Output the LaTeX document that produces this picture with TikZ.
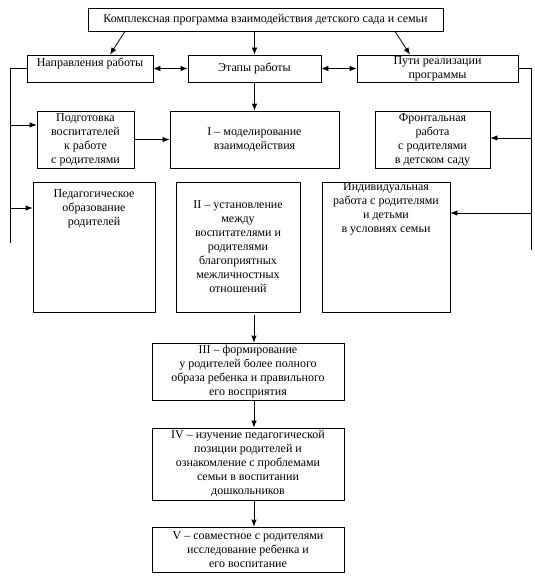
\documentclass[tikz,border=0pt]{standalone}
\usepackage{fontspec}
\setmainfont{Liberation Serif}
\usetikzlibrary{arrows.meta,calc}
\begin{document}
\begin{tikzpicture}[x=1pt,y=-1pt,
  box/.style={draw,line width=0.8pt,inner sep=0pt,align=center,font=\fontsize{12}{14}\selectfont},
  txt/.style={inner sep=0pt,align=center,font=\fontsize{12}{14}\selectfont},
  arr/.style={line width=0.8pt,-{Latex[length=7pt,width=5.5pt]}},
  dbl/.style={line width=0.8pt,{Latex[length=7pt,width=5.5pt]}-{Latex[length=7pt,width=5.5pt]}},
  ln/.style={line width=0.8pt}]
\useasboundingbox[fill=white] (0,0) rectangle (535,578);

\node[box,minimum width=355,minimum height=23] (top) at (265.5,19.5) {Комплексная программа взаимодействия детского сада и семьи};

\node[box,minimum width=126,minimum height=27] (napr) at (90,68.5) {};
\node[txt] (naprt) at (90,63) {Направления работы};
\node[box,minimum width=133,minimum height=27] (etapy) at (254.5,68.5) {Этапы работы};
\node[box,minimum width=161,minimum height=27] (puti) at (437.5,68.5) {Пути реализации\\программы};

\node[box,minimum width=97,minimum height=57] (podg) at (85.5,139.5) {Подготовка\\воспитателей\\к работе\\с родителями};
\node[box,minimum width=169,minimum height=57] (mod) at (254.5,139.5) {I – моделирование\\взаимодействия};
\node[box,minimum width=115,minimum height=57] (fron) at (432.5,139.5) {Фронтальная\\работа\\с родителями\\в детском саду};

\node[box,minimum width=122,minimum height=130] (ped) at (94,247) {};
\node[txt] (pedt) at (94,209) {Педагогическое\\образование\\родителей};
\node[box,minimum width=124,minimum height=130] (ust) at (238,247) {II – установление\\между\\воспитателями и\\родителями\\благоприятных\\межличностных\\отношений};
\node[box,minimum width=128,minimum height=130] (ind) at (386,247) {};
\node[txt] (indt) at (386,209) {Индивидуальная\\работа с родителями\\и детьми\\в условиях семьи};

\node[box,minimum width=192,minimum height=57] (form) at (248,371.5) {III – формирование\\у родителей более полного\\образа ребенка и правильного\\его восприятия};
\node[box,minimum width=192,minimum height=72] (izuch) at (248,464) {IV – изучение педагогической\\позиции родителей и\\ознакомление с проблемами\\семьи в воспитании\\дошкольников};
\node[box,minimum width=192,minimum height=45] (sovm) at (248,549.5) {V – совместное с родителями\\исследование ребенка и\\его воспитание};

% top arrows
\draw[arr] ($(top.south)+(-140.5,0)$) -- ($(napr.north)+(20,0)$);
\draw[arr] (top.south -| etapy.north) -- (etapy.north);
\draw[arr] ($(top.south)+(129.5,0)$) -- ($(puti.north)+(-27.5,0)$);
\draw[dbl] (napr.east) -- (etapy.west);
\draw[dbl] (etapy.east) -- (puti.west);
\draw[arr] (etapy.south) -- (mod.north);
\draw[arr] (podg.east) -- (mod.west);

% left bus
\coordinate (L) at (10,243);
\coordinate (la) at (10,125);
\coordinate (lb) at (10,208);
\draw[ln] (napr.west) -| (L);
\draw[arr] (la) -- (la -| podg.west);
\draw[arr] (lb) -- (lb -| ped.west);

% right bus
\coordinate (R) at (531,250);
\coordinate (ra) at (531,138);
\coordinate (rb) at (531,213);
\draw[ln] (puti.east) -| (R);
\draw[arr] (ra) -- (ra -| fron.east);
\draw[arr] (rb) -- (rb -| ind.east);

% stage chain
\coordinate (cx) at (254,0);
\draw[arr] ($(ust.south -| cx)+(0,3)$) -- (form.north -| cx);
\draw[arr] (form.south -| cx) -- (izuch.north -| cx);
\draw[arr] (izuch.south -| cx) -- (sovm.north -| cx);
\end{tikzpicture}
\end{document}
